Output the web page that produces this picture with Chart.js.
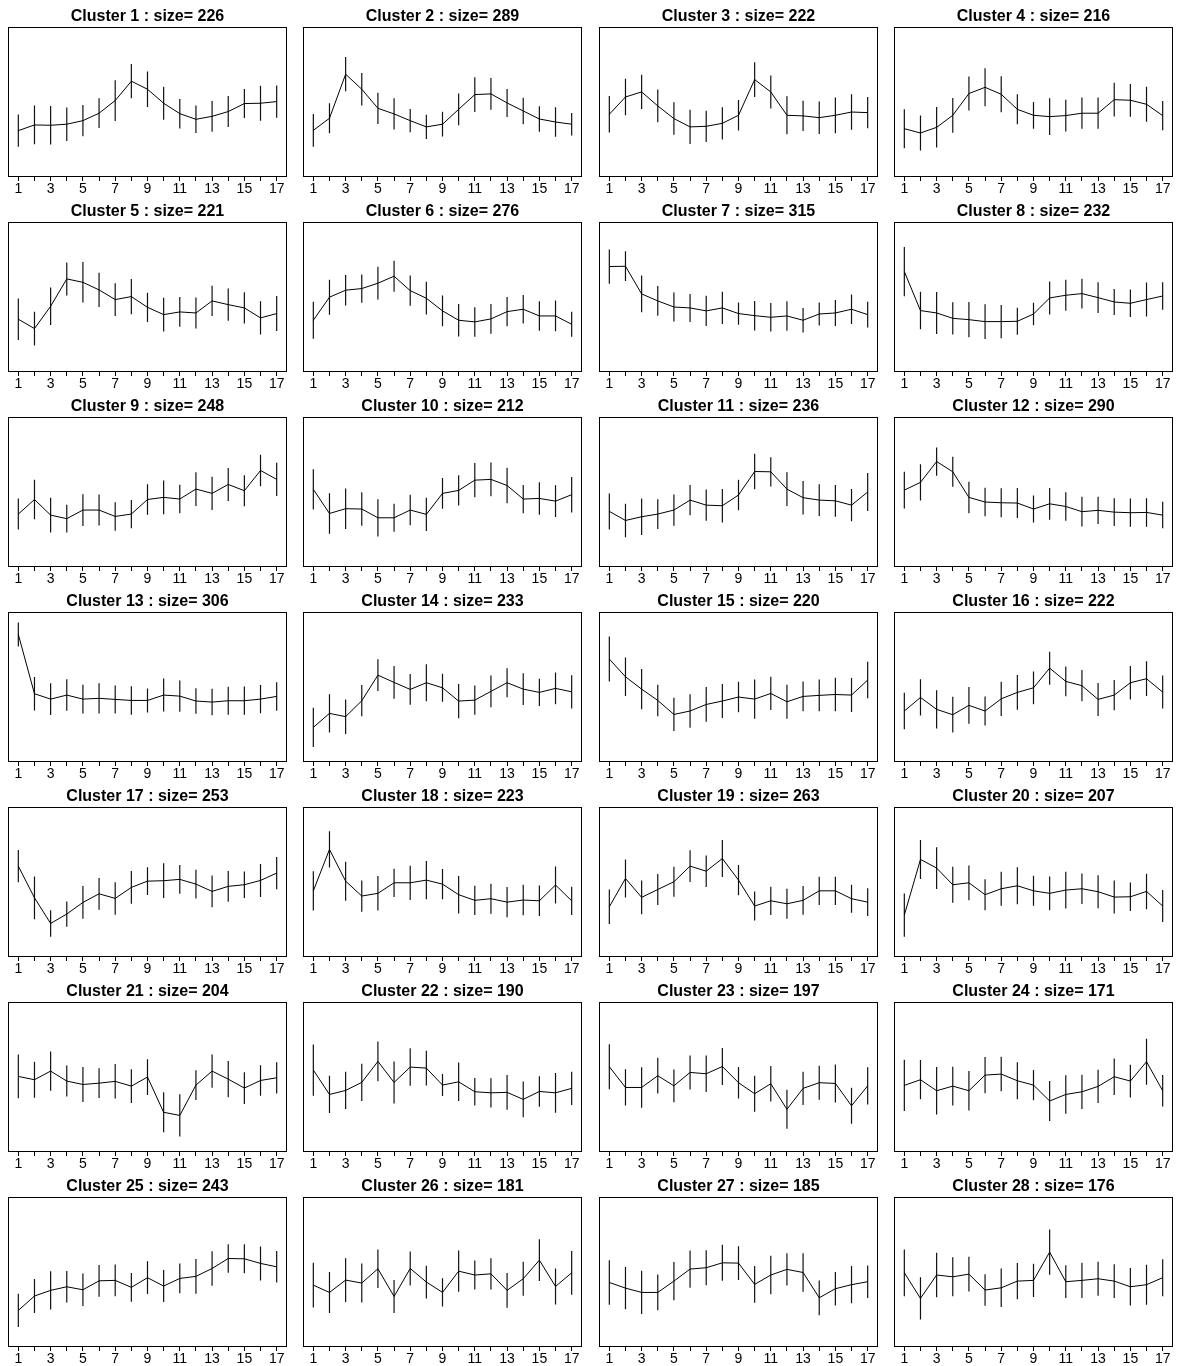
<!DOCTYPE html>
<html>
<head>
<meta charset="utf-8">
<title>Cluster profiles</title>
<script src="https://cdn.jsdelivr.net/npm/chart.js@4.4.0/dist/chart.umd.min.js"></script>
<style>
  html, body { margin: 0; padding: 0; background: #fff; }
  #grid { position: relative; width: 1177px; height: 1366px; overflow: hidden; }
  .cell { position: absolute; width: 294px; height: 195px; }
</style>
</head>
<body>
<div id="grid"></div>
<script>
'use strict';

// x positions (1..17) and the labelled ticks
const steps = [1, 2, 3, 4, 5, 6, 7, 8, 9, 10, 11, 12, 13, 14, 15, 16, 17];
const tickLabels = [1, 3, 5, 7, 9, 11, 13, 15, 17];

// cluster sizes, in panel order
const sizes = [226, 289, 222, 216, 221, 276, 315, 232, 248, 212, 236, 290, 306, 233,
               220, 222, 253, 223, 263, 207, 204, 190, 197, 171, 243, 181, 185, 176];

// mean profile per cluster (% of panel height)
const means = [
  [30.5, 34.3, 34.1, 34.8, 37.2, 42.2, 50.7, 63.7, 58.3, 48.9, 41.9, 38.1, 40.1, 43.3, 48.7, 48.9, 50.0],
  [30.7, 38.8, 68.4, 58.3, 45.5, 41.7, 37.2, 33.0, 34.8, 44.8, 54.7, 55.2, 49.1, 43.7, 38.3, 36.3, 34.8],
  [41.5, 53.1, 56.5, 47.1, 38.6, 33.0, 33.4, 35.4, 40.8, 64.8, 56.5, 40.8, 40.4, 39.2, 40.8, 43.0, 42.6],
  [31.8, 28.9, 32.7, 40.8, 55.4, 59.6, 54.9, 44.8, 40.8, 39.9, 40.6, 42.2, 42.2, 51.3, 50.9, 48.2, 40.6],
  [34.8, 28.5, 43.5, 61.9, 59.6, 54.5, 48.0, 50.0, 42.8, 37.9, 39.7, 39.0, 47.1, 44.6, 42.4, 35.7, 38.6],
  [34.1, 49.6, 54.3, 55.4, 59.0, 63.7, 54.0, 48.9, 40.4, 34.1, 33.0, 35.0, 39.9, 41.5, 37.0, 37.0, 31.4],
  [70.2, 70.4, 51.8, 47.1, 43.0, 42.4, 40.4, 42.4, 38.6, 37.2, 36.1, 37.0, 34.1, 38.3, 39.0, 41.5, 37.9],
  [66.8, 40.6, 39.0, 35.4, 34.5, 33.2, 33.2, 33.4, 38.3, 49.1, 50.9, 52.0, 49.3, 46.4, 45.5, 48.0, 50.4],
  [34.9, 44.7, 34.2, 31.8, 37.6, 37.6, 33.3, 34.9, 44.7, 46.1, 45.0, 51.7, 48.8, 54.8, 50.6, 64.2, 58.2],
  [51.5, 35.3, 38.5, 38.3, 32.4, 32.4, 37.6, 34.7, 48.8, 50.8, 57.7, 58.2, 54.1, 45.0, 45.4, 43.6, 47.9],
  [36.7, 30.6, 33.1, 34.9, 37.6, 44.3, 40.9, 40.5, 47.7, 63.5, 63.3, 51.7, 45.9, 44.3, 43.8, 40.9, 49.7],
  [51.0, 56.2, 70.2, 63.3, 46.1, 43.0, 42.5, 42.3, 38.3, 41.8, 40.0, 36.5, 37.4, 36.2, 35.8, 36.0, 34.2],
  [85.0, 45.2, 41.6, 44.3, 41.6, 42.1, 41.4, 40.7, 40.7, 44.3, 43.6, 40.3, 39.6, 40.5, 40.5, 41.6, 43.4],
  [22.6, 32.0, 29.8, 40.5, 57.7, 52.8, 48.1, 52.6, 49.2, 40.3, 40.9, 46.8, 52.6, 48.3, 46.1, 48.8, 46.5],
  [68.5, 56.6, 48.3, 40.7, 31.3, 33.6, 38.0, 40.3, 43.0, 41.6, 45.4, 39.8, 43.4, 44.1, 44.7, 44.3, 54.4],
  [33.6, 42.7, 34.7, 31.1, 37.4, 33.6, 41.8, 46.1, 49.2, 62.4, 53.5, 50.6, 41.4, 44.3, 52.6, 55.3, 46.3],
  [60.4, 39.1, 21.9, 28.2, 36.0, 41.8, 38.7, 46.1, 50.3, 50.6, 51.5, 48.3, 43.4, 46.8, 47.9, 50.8, 55.7],
  [43.8, 71.6, 50.3, 40.3, 42.1, 49.2, 49.2, 51.0, 48.3, 41.2, 37.4, 38.5, 36.2, 37.6, 37.1, 47.7, 37.1],
  [33.1, 52.1, 39.4, 44.7, 49.9, 60.4, 57.0, 65.5, 51.0, 33.6, 37.1, 35.1, 37.4, 43.8, 43.8, 38.5, 36.2],
  [27.5, 64.9, 59.1, 47.9, 49.2, 41.2, 45.2, 47.2, 43.8, 42.1, 44.3, 45.2, 43.2, 39.6, 39.8, 43.4, 33.6],
  [50.1, 47.9, 53.7, 47.0, 44.7, 45.6, 46.8, 43.6, 49.7, 26.0, 23.9, 44.3, 53.7, 48.3, 42.3, 47.4, 49.2],
  [54.4, 38.0, 40.7, 46.1, 60.2, 46.1, 56.4, 55.7, 44.3, 46.5, 39.8, 39.1, 39.4, 34.7, 40.0, 39.1, 42.1],
  [56.6, 42.7, 42.7, 50.6, 43.8, 52.8, 51.9, 56.8, 45.9, 38.5, 45.2, 28.0, 42.1, 45.9, 45.4, 30.4, 43.8],
  [44.1, 47.9, 40.5, 43.6, 40.5, 51.0, 51.7, 47.2, 44.3, 33.6, 38.0, 39.8, 43.4, 49.9, 47.0, 60.0, 40.5],
  [23.9, 33.6, 37.4, 39.8, 37.8, 43.8, 44.1, 39.4, 45.9, 40.3, 45.4, 46.8, 52.1, 58.8, 58.6, 55.5, 53.2],
  [40.9, 36.0, 44.3, 42.3, 51.9, 33.3, 52.1, 43.0, 36.0, 50.3, 47.7, 48.5, 37.4, 45.2, 57.7, 40.0, 49.2],
  [42.7, 38.9, 36.0, 36.0, 43.6, 51.7, 52.6, 55.9, 55.7, 41.4, 47.7, 51.5, 49.4, 32.4, 38.5, 41.2, 43.2],
  [49.2, 32.0, 47.7, 46.5, 48.3, 37.6, 39.1, 43.6, 44.1, 63.1, 43.2, 44.1, 45.2, 43.6, 39.8, 41.2, 45.9],
];

// half length of each vertical bar (same units)
const spreads = [
  [10.8, 13.0, 13.0, 11.2, 10.5, 10.0, 13.7, 11.5, 11.9, 11.1, 9.9, 9.2, 10.3, 10.4, 9.8, 11.8, 10.9],
  [11.0, 10.1, 11.5, 11.0, 10.5, 10.5, 7.8, 8.2, 8.3, 10.7, 11.7, 10.7, 9.4, 8.9, 8.6, 9.9, 7.5],
  [12.3, 12.3, 11.5, 11.0, 10.9, 11.5, 10.5, 10.8, 10.3, 11.7, 11.1, 12.8, 10.1, 10.9, 12.0, 11.9, 10.5],
  [13.1, 11.7, 13.6, 11.7, 11.4, 12.8, 12.1, 10.1, 9.0, 12.3, 10.7, 10.5, 10.5, 11.3, 11.0, 11.8, 9.8],
  [14.0, 11.4, 12.6, 11.1, 13.6, 11.5, 11.0, 11.8, 9.8, 11.3, 10.0, 10.4, 10.2, 10.8, 10.5, 11.2, 11.8],
  [12.4, 11.8, 10.3, 9.5, 11.0, 10.4, 10.2, 11.0, 10.3, 10.9, 9.9, 10.0, 9.8, 9.6, 9.9, 10.3, 8.4],
  [11.5, 10.0, 12.4, 10.0, 9.8, 9.4, 10.2, 10.8, 7.5, 9.9, 9.6, 9.9, 8.3, 7.8, 8.7, 9.9, 8.6],
  [16.5, 12.6, 14.1, 10.8, 11.9, 11.7, 11.2, 9.1, 7.6, 11.1, 10.4, 10.0, 10.3, 8.7, 9.2, 11.4, 9.3],
  [10.4, 13.2, 11.7, 9.3, 10.7, 10.4, 9.6, 9.5, 10.2, 11.3, 9.6, 11.3, 11.2, 11.1, 10.4, 10.6, 11.2],
  [13.6, 13.6, 13.6, 11.3, 12.5, 9.4, 10.2, 11.2, 10.4, 10.2, 11.5, 11.3, 12.0, 9.5, 10.9, 10.7, 11.9],
  [12.1, 11.3, 12.3, 10.0, 10.5, 10.2, 10.5, 11.2, 10.2, 12.0, 9.8, 11.3, 11.3, 10.7, 10.7, 10.9, 12.8],
  [12.3, 12.1, 9.5, 10.1, 10.6, 9.6, 9.8, 10.1, 9.1, 10.7, 9.6, 10.0, 9.2, 9.4, 9.5, 9.6, 8.9],
  [8.1, 11.3, 10.7, 10.6, 9.6, 10.1, 9.4, 9.6, 8.1, 11.1, 10.5, 8.6, 8.9, 9.4, 9.5, 9.5, 9.6],
  [13.2, 12.9, 11.6, 10.5, 10.6, 11.0, 10.3, 12.4, 9.4, 11.5, 9.8, 10.7, 9.8, 10.6, 9.2, 10.7, 11.2],
  [15.1, 13.0, 13.6, 10.6, 11.2, 11.2, 11.7, 11.4, 10.2, 13.2, 11.2, 11.4, 10.0, 10.6, 11.3, 11.4, 12.3],
  [12.3, 12.2, 12.9, 12.0, 12.3, 9.7, 11.5, 11.7, 11.0, 11.1, 10.0, 10.5, 11.1, 10.2, 11.2, 11.7, 11.1],
  [10.9, 14.4, 8.9, 8.5, 11.0, 10.7, 10.9, 11.0, 9.3, 11.7, 9.7, 9.7, 10.7, 10.4, 8.9, 11.1, 10.9],
  [13.2, 12.2, 13.1, 10.5, 11.6, 9.5, 11.5, 12.9, 10.1, 12.6, 9.8, 10.1, 10.1, 10.2, 10.2, 12.4, 9.5],
  [11.6, 12.8, 11.4, 10.4, 10.1, 10.6, 10.6, 12.4, 10.1, 9.7, 9.5, 10.1, 9.7, 9.5, 9.5, 9.4, 9.4],
  [14.5, 13.1, 14.0, 12.1, 11.7, 10.4, 11.5, 12.5, 10.1, 11.4, 12.3, 10.3, 11.1, 11.1, 9.6, 11.9, 10.7],
  [14.7, 12.1, 13.2, 10.4, 11.7, 10.0, 11.6, 11.3, 12.0, 13.4, 14.2, 10.0, 11.2, 12.1, 10.7, 10.2, 10.5],
  [17.2, 12.5, 12.5, 12.5, 13.4, 14.1, 12.6, 11.7, 7.4, 12.9, 9.3, 9.8, 11.6, 12.0, 10.3, 13.4, 11.2],
  [15.1, 12.2, 13.6, 12.0, 11.0, 11.4, 12.3, 12.4, 10.6, 12.1, 12.0, 13.1, 11.2, 11.4, 12.8, 12.1, 12.5],
  [17.3, 13.2, 16.0, 13.1, 13.3, 12.2, 11.6, 12.4, 10.2, 13.4, 12.9, 11.5, 11.2, 12.2, 11.0, 15.4, 10.6],
  [11.2, 11.5, 12.8, 10.6, 10.9, 10.7, 10.7, 9.6, 11.0, 10.7, 10.0, 11.7, 11.6, 9.5, 9.7, 11.4, 10.6],
  [15.1, 13.8, 14.7, 13.1, 13.0, 11.1, 11.4, 11.0, 9.5, 13.9, 9.8, 10.5, 11.7, 11.5, 14.1, 12.1, 14.7],
  [14.9, 14.2, 14.5, 12.0, 12.9, 12.5, 11.7, 12.1, 11.4, 12.4, 12.9, 10.9, 12.9, 11.7, 11.2, 12.5, 10.9],
  [15.7, 14.2, 14.9, 13.1, 11.7, 10.6, 12.9, 12.2, 11.2, 15.2, 11.0, 11.9, 11.5, 11.4, 12.6, 13.4, 12.4],
];

const COLS = 4;
const COL_PITCH = 295.4;
const CELL_W = 294;
const CELL_H = 195;
const FONT = "'Liberation Sans', Arial, Helvetica, sans-serif";

// R style frame round the plot region
const framePlugin = {
  id: 'frame',
  afterDraw(chart) {
    const a = chart.chartArea;
    const ctx = chart.ctx;
    ctx.save();
    ctx.strokeStyle = '#000';
    ctx.lineWidth = 1;
    ctx.strokeRect(Math.round(a.left) + 0.5, Math.round(a.top) + 0.5,
                   Math.round(a.right - a.left) - 1, Math.round(a.bottom - a.top));
    ctx.restore();
  }
};

function drawPanel(idx) {
  const col = idx % COLS;
  const row = Math.floor(idx / COLS);

  const cell = document.createElement('div');
  cell.className = 'cell';
  cell.style.left = Math.round(col * COL_PITCH) + 'px';
  cell.style.top = (row * CELL_H) + 'px';
  const canvas = document.createElement('canvas');
  canvas.width = CELL_W;
  canvas.height = CELL_H;
  cell.appendChild(canvas);
  document.getElementById('grid').appendChild(cell);

  const m = means[idx];
  const s = spreads[idx];

  new Chart(canvas.getContext('2d'), {
    type: 'bar',
    data: {
      datasets: [
        {
          type: 'line',
          data: steps.map((x, i) => ({ x: x, y: m[i] })),
          borderColor: '#000',
          borderWidth: 1,
          pointRadius: 0,
          tension: 0,
          fill: false,
          order: 0,
        },
        {
          type: 'bar',
          data: steps.map((x, i) => ({ x: x, y: [m[i] - s[i], m[i] + s[i]] })),
          backgroundColor: '#111',
          borderWidth: 0,
          barThickness: 1.2,
          inflateAmount: 0,
          grouped: false,
          order: 1,
        }
      ]
    },
    options: {
      responsive: false,
      devicePixelRatio: 1,
      animation: false,
      events: [],
      layout: { padding: { left: 8, right: 7, top: 0, bottom: 0 } },
      plugins: {
        legend: { display: false },
        tooltip: { enabled: false },
        title: {
          display: true,
          text: 'Cluster ' + (idx + 1) + ' : size= ' + sizes[idx],
          color: '#000',
          font: { family: FONT, size: 16, weight: 'bold', lineHeight: 1.2 },
          padding: { top: 7, bottom: 1 },
        }
      },
      scales: {
        x: {
          type: 'linear',
          offset: false,
          min: 0.36,
          max: 17.64,
          afterBuildTicks: (scale) => { scale.ticks = steps.map(v => ({ value: v })); },
          afterFit: (scale) => { scale.height = 19; },
          ticks: {
            autoSkip: false,
            maxRotation: 0,
            padding: 0,
            color: '#000',
            font: { family: FONT, size: 14 },
            callback: (v) => tickLabels.includes(v) ? String(v) : '',
          },
          grid: { offset: false, drawOnChartArea: false, drawTicks: true, tickLength: 5, color: '#000', lineWidth: 1 },
          border: { display: false },
        },
        y: {
          display: false,
          min: 0,
          max: 100,
        }
      }
    },
    plugins: [framePlugin]
  });
}

for (let i = 0; i < means.length; i++) drawPanel(i);
</script>
</body>
</html>
